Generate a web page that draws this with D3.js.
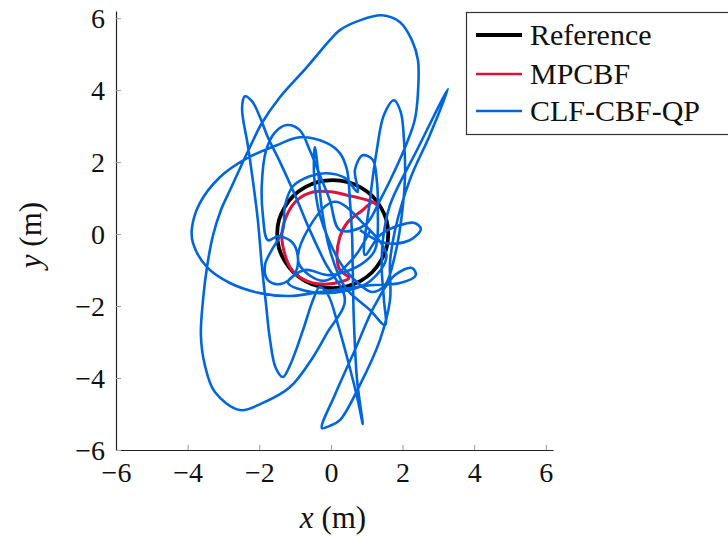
<!DOCTYPE html>
<html>
<head>
<meta charset="utf-8">
<script src="https://cdn.jsdelivr.net/npm/d3@7"></script>
<style>
  html, body { margin: 0; padding: 0; background: #fff; }
  svg { display: block; }
  text { font-family: "Liberation Serif", "DejaVu Serif", serif; fill: #111; }
</style>
</head>
<body>
<svg id="chart" width="728" height="537"></svg>
<script>
// ---------- data (metres) ----------
const xTicks = [-6, -4, -2, 0, 2, 4, 6];
const yTicks = [-6, -4, -2, 0, 2, 4, 6];
const seriesNames = ["Reference", "MPCBF", "CLF-CBF-QP"];

// Reference: circle
const refX = [1.60, 1.55, 1.39, 1.15, 0.83, 0.45, 0.05, -0.35, -0.73, -1.05, -1.29, -1.45, -1.50,
              -1.45, -1.29, -1.05, -0.73, -0.35, 0.05, 0.45, 0.83, 1.15, 1.39, 1.55];
const refY = [0.00, 0.39, 0.75, 1.06, 1.30, 1.45, 1.50, 1.45, 1.30, 1.06, 0.75, 0.39, 0.00,
              -0.39, -0.75, -1.06, -1.30, -1.45, -1.50, -1.45, -1.30, -1.06, -0.75, -0.39];

// MPCBF trajectory
const mpcX = [1.30, 1.17, 0.81, 0.45, 0.06, -0.50, -0.95, -1.23, -1.37, -1.28, -1.09, -0.73, -0.25,
              0.33, 0.50, 0.25, 0.17, 0.25, 0.45, 0.89, 1.17, 1.25];
const mpcY = [0.80, 0.89, 1.00, 1.08, 1.17, 1.17, 0.94, 0.53, -0.03, -0.58, -1.00, -1.28, -1.39,
              -1.31, -1.22, -1.00, -0.64, -0.08, 0.31, 0.67, 0.89, 0.86];

// CLF-CBF-QP trajectory
const qpX = [0.81, 1.51, 2.20, 2.51, 2.34, 1.93, 1.37, 0.95, 1.09, 1.28, 1.48, 1.76, 1.95, 2.04, 2.07, 1.98,
  1.79, 1.51, 1.14, 0.67, 0.25, -0.31, -0.47, -0.45, -0.36, -0.25, -0.03, 0.39, 1.09, 1.51, 1.48, 1.42,
  1.45, 1.65, 2.40, 3.27, 2.76, 2.20, 1.79, 1.65, 1.65, 1.37, 0.81, 0.25, -0.03, -0.25, 0.11, 0.67,
  1.23, 1.79, 2.26, 2.37, 1.93, 1.09, 0.53, -0.31, -1.14, -1.98, -2.82, -3.46, -3.85, -3.88, -3.66,
  -3.10, -2.34, -1.51, -0.87, -0.11, 0.25, 0.45, 0.53, 0.59, 0.61, 0.64, 0.73, 0.89, 0.75, 0.47, 0.20,
  -0.08, -0.31, -0.50, -0.78, -1.14, -1.34, -1.54, -1.70, -1.81, -1.93, -2.04, -2.18, -2.32, -2.48,
  -2.40, -2.20, -1.98, -1.76, -1.42, -1.00, -0.59, -0.17, 0.39, -0.11, -0.50, -1.14, -1.90, -2.54,
  -3.24, -3.52, -3.63, -3.57, -3.46, -3.29, -3.07, -2.79, -2.26, -1.93, -1.42, -0.67, -0.03, 0.25,
  0.81, 1.42, 1.93, 2.26, 2.43, 2.43, 2.34, 2.12, 1.79, 1.37, 0.95, 0.25, -0.03, -0.31, -0.59, -0.87,
  -1.23, -1.56, -1.81, -1.93, -1.90, -1.76, -1.48, -1.09, -0.92, -1.03, -1.42, -1.76, -1.84, -1.65,
  -1.34, -1.28, -1.06, -0.59, -0.11, 0.39, 0.75, 0.67, 0.89, 1.17, 1.28, 1.31, 1.23, 0.81, -0.03, -0.73,
  -1.20, -0.50, 0.40, 1.10, 1.55, 0.90, 0.10, -0.60, -0.90, -0.20, 0.60, 1.10];
const qpY = [0.11, -0.25, -0.17, 0.14, 0.31, 0.25, -0.03, -0.58, 0.94, 2.33, 3.31, 3.72, 3.39, 2.61, 1.64, 0.53,
  -0.58, -1.42, -1.61, -1.28, -0.78, 0.53, 1.64, 2.42, 1.78, 0.67, -0.44, -1.47, -2.11, -2.53, -1.83, -1.00,
  -0.17, 0.81, 2.33, 4.03, 2.75, 1.50, 0.11, -0.78, -1.83, -2.94, -4.19, -5.17, -5.33, -5.39, -4.47, -3.22,
  -1.97, -1.14, -0.94, -1.14, -1.36, -1.42, -1.50, -1.61, -1.72, -1.64, -1.36, -0.92, -0.25, 0.17, 0.86,
  1.58, 2.11, 2.47, 2.69, 2.53, 2.25, 1.78, 0.94, -0.03, -1.00, -2.39, -4.06, -5.28, -4.61, -3.50, -2.53,
  -1.69, -1.47, -1.83, -2.67, -3.64, -3.97, -3.72, -2.94, -1.97, -0.86, 0.39, 1.50, 2.47, 3.50,
  3.83, 3.69, 3.25, 2.69, 2.00, 1.08, 0.11, -0.78, -1.83, -2.75, -3.42, -4.25, -4.69, -4.89,
  -4.39, -3.64, -2.81, -1.83, -0.92, -0.03, 0.67, 1.28, 2.42, 3.08, 3.81, 4.64, 5.39, 5.67,
  5.94, 6.08, 5.89, 5.39, 4.83, 3.92, 3.17, 2.53, 1.78, 0.94, 0.25, 0.11, 0.94, 1.64, 2.33, 2.89,
  3.03, 2.83, 2.33, 1.36, 0.53, -0.17, -0.06, -0.22, -0.67, -1.14, -1.39, -1.28, -0.86, -0.44,
  0.11, 0.81, 1.33, 1.61, 1.69, 1.56, 1.17, 1.78, 2.19, 2.06, 1.50, 0.67, -0.44, -0.86, -1.14, -1.00,
  -1.35, -1.62, -1.58, -1.30, -0.60, 0.30, 0.90, 0.20, -0.80, -1.30, -0.70, 0.10];

const colors = { ref: "#000000", mpc: "#dc143c", qp: "#0066dd" };

// ---------- layout ----------
const svg = d3.select("#chart");
const x = d3.scaleLinear().domain([-6, 6.2]).range([116, 553]);
const y = d3.scaleLinear().domain([-6, 6.2]).range([450, 11]);

const zip = (a, b) => a.map((v, i) => [v, b[i]]);
const mk = curve => d3.line().x(d => x(d[0])).y(d => y(d[1])).curve(curve);

// reference circle
svg.append("path")
  .attr("d", mk(d3.curveCardinalClosed)(zip(refX, refY)))
  .attr("fill", "none").attr("stroke", colors.ref).attr("stroke-width", 3.8);

// MPCBF
svg.append("path")
  .attr("d", mk(d3.curveCatmullRom.alpha(0.5))(zip(mpcX, mpcY)))
  .attr("fill", "none").attr("stroke", colors.mpc).attr("stroke-width", 3)
  .attr("stroke-linejoin", "round");

// CLF-CBF-QP
svg.append("path")
  .attr("d", mk(d3.curveCatmullRom.alpha(0.5))(zip(qpX, qpY)))
  .attr("fill", "none").attr("stroke", colors.qp).attr("stroke-width", 2.6)
  .attr("stroke-linejoin", "round");

// axes
const fs = 28;
const fmt = d => d < 0 ? "\u2212" + Math.abs(d) : String(d);
const xAxis = svg.append("g").attr("transform", "translate(0,450)")
  .call(d3.axisBottom(x).tickValues(xTicks).tickSizeInner(-5).tickSizeOuter(0).tickPadding(6).tickFormat(fmt));
const yAxis = svg.append("g").attr("transform", "translate(116,0)")
  .call(d3.axisLeft(y).tickValues(yTicks).tickSizeInner(-5).tickSizeOuter(0).tickPadding(11).tickFormat(fmt));

[xAxis, yAxis].forEach(g => {
  g.select(".domain").attr("stroke", "#222").attr("stroke-width", 1.2);
  g.selectAll(".tick line").attr("stroke", "#999").attr("stroke-width", 1);
  g.selectAll(".tick text").attr("font-family", "Liberation Serif, serif")
    .attr("font-size", fs).attr("fill", "#111");
});
xAxis.selectAll(".tick text").attr("y", 32).attr("dy", 0);
yAxis.selectAll(".tick text").attr("dy", "0.33em");

// axis titles
svg.append("text").attr("x", 333).attr("y", 528).attr("text-anchor", "middle")
  .attr("font-size", 31)
  .html('<tspan font-style="italic">x</tspan> (m)');
svg.append("text").attr("transform", "translate(41,235) rotate(-90)").attr("text-anchor", "middle")
  .attr("font-size", 31)
  .html('<tspan font-style="italic">y</tspan> (m)');

// legend
const lg = svg.append("g");
lg.append("rect").attr("x", 466.5).attr("y", 12.5).attr("width", 300).attr("height", 122)
  .attr("fill", "#fff").attr("stroke", "#333").attr("stroke-width", 1.2);
const legendItems = [
  { name: seriesNames[0], color: colors.ref, w: 3.8, yy: 35 },
  { name: seriesNames[1], color: colors.mpc, w: 2.4, yy: 74 },
  { name: seriesNames[2], color: colors.qp, w: 2.4, yy: 111 }
];
legendItems.forEach(it => {
  lg.append("line").attr("x1", 476).attr("x2", 522).attr("y1", it.yy).attr("y2", it.yy)
    .attr("stroke", it.color).attr("stroke-width", it.w);
  lg.append("text").attr("x", 530).attr("y", it.yy + 10).attr("font-size", 30).text(it.name);
});
</script>
</body>
</html>
